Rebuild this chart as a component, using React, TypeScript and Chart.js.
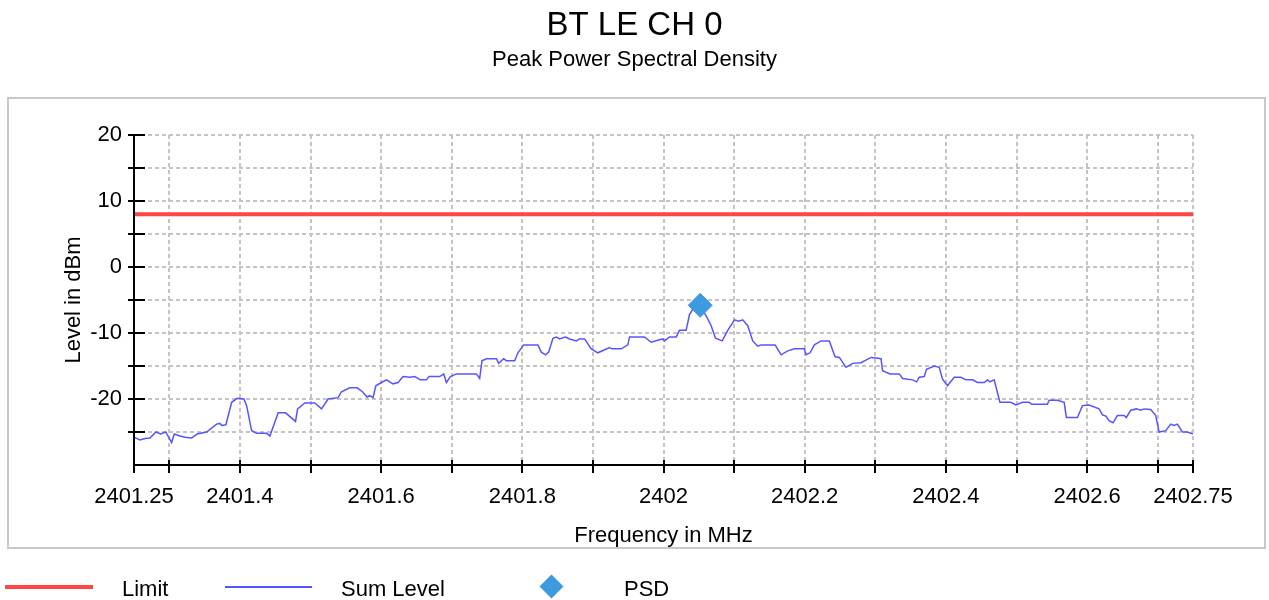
import React, { useEffect, useRef } from 'react';
import { Chart, registerables } from 'chart.js';

Chart.register(...registerables);

const chartTitle = 'BT LE CH 0';
const chartSubtitle = 'Peak Power Spectral Density';
const xAxisTitle = 'Frequency in MHz';
const yAxisTitle = 'Level in dBm';

const seriesNames = ['Limit', 'Sum Level', 'PSD'];
const seriesColors = ['#ff4646', '#5555ff', '#3d9ade'];

const xTickValues = [2401.25, 2401.3, 2401.4, 2401.5, 2401.6, 2401.7, 2401.8, 2401.9, 2402.0, 2402.1, 2402.2, 2402.3, 2402.4, 2402.5, 2402.6, 2402.7, 2402.75];
const xTickLabels = ['2401.25', '2401.4', '2401.6', '2401.8', '2402', '2402.2', '2402.4', '2402.6', '2402.75'];
const yTickValues = [-30, -25, -20, -15, -10, -5, 0, 5, 10, 15, 20];
const yTickLabels = ['-20', '-10', '0', '10', '20'];

const limitFreqMHz = [2401.25, 2402.75];
const limitLevel = [8, 8];

const psdFreqMHz = [2402.052];
const psdLevel = [-5.8];

const sumFreqMHz = [
  2401.2500, 2401.2585, 2401.2656, 2401.2726, 2401.2811, 2401.2878, 2401.2949, 2401.3033, 2401.3070, 2401.3151,
  2401.3222, 2401.3317, 2401.3396, 2401.3529, 2401.3670, 2401.3717, 2401.3741, 2401.3802, 2401.3883, 2401.3962,
  2401.4057, 2401.4095, 2401.4166, 2401.4236, 2401.4378, 2401.4425, 2401.4542, 2401.4647, 2401.4788, 2401.4817,
  2401.4920, 2401.5061, 2401.5156, 2401.5250, 2401.5391, 2401.5439, 2401.5557, 2401.5660, 2401.5736, 2401.5801,
  2401.5840, 2401.5886, 2401.5925, 2401.6005, 2401.6076, 2401.6169, 2401.6240, 2401.6311, 2401.6406, 2401.6476,
  2401.6557, 2401.6642, 2401.6679, 2401.6830, 2401.6887, 2401.6925, 2401.6982, 2401.7067, 2401.7350, 2401.7396,
  2401.7429, 2401.7491, 2401.7633, 2401.7665, 2401.7736, 2401.7774, 2401.7892, 2401.7938, 2401.8019, 2401.8221,
  2401.8269, 2401.8330, 2401.8373, 2401.8434, 2401.8482, 2401.8528, 2401.8609, 2401.8670, 2401.8765, 2401.8811,
  2401.8882, 2401.8977, 2401.9070, 2401.9236, 2401.9269, 2401.9401, 2401.9495, 2401.9519, 2401.9731, 2401.9826,
  2401.9919, 2401.9990, 2402.0014, 2402.0085, 2402.0180, 2402.0226, 2402.0321, 2402.0368, 2402.0415, 2402.0485,
  2402.0520, 2402.0556, 2402.0604, 2402.0675, 2402.0736, 2402.0831, 2402.0910, 2402.1005, 2402.1066, 2402.1122,
  2402.1193, 2402.1264, 2402.1335, 2402.1383, 2402.1581, 2402.1666, 2402.1759, 2402.1854, 2402.1995, 2402.2019,
  2402.2076, 2402.2137, 2402.2232, 2402.2349, 2402.2430, 2402.2491, 2402.2585, 2402.2679, 2402.2798, 2402.2939,
  2402.3010, 2402.3081, 2402.3103, 2402.3208, 2402.3340, 2402.3387, 2402.3528, 2402.3585, 2402.3623, 2402.3693,
  2402.3726, 2402.3835, 2402.3906, 2402.3952, 2402.4023, 2402.4118, 2402.4213, 2402.4284, 2402.4377, 2402.4448,
  2402.4543, 2402.4589, 2402.4623, 2402.4684, 2402.4765, 2402.4920, 2402.4991, 2402.5085, 2402.5179, 2402.5217,
  2402.5438, 2402.5462, 2402.5580, 2402.5675, 2402.5707, 2402.5863, 2402.5934, 2402.6028, 2402.6170, 2402.6217,
  2402.6265, 2402.6311, 2402.6368, 2402.6429, 2402.6524, 2402.6556, 2402.6618, 2402.6698, 2402.6760, 2402.6807,
  2402.6901, 2402.6972, 2402.7019, 2402.7114, 2402.7185, 2402.7231, 2402.7278, 2402.7349, 2402.7420, 2402.7500,
];

const sumLevelDbm = [
  -25.8, -26.2, -26.0, -25.9, -25.0, -25.3, -25.0, -26.6, -25.3, -25.6,
  -25.8, -25.9, -25.3, -25.0, -23.8, -23.7, -24.0, -23.9, -20.5, -19.9,
  -20.0, -21.0, -24.8, -25.2, -25.2, -25.6, -22.1, -22.1, -23.4, -21.5,
  -20.6, -20.6, -21.5, -20.0, -19.8, -18.9, -18.3, -18.3, -18.9, -19.7,
  -19.5, -19.8, -18.0, -17.5, -17.1, -17.7, -17.5, -16.6, -16.7, -16.6,
  -17.1, -17.1, -16.6, -16.6, -16.2, -17.5, -16.6, -16.2, -16.2, -16.9,
  -14.2, -13.9, -13.9, -14.6, -13.9, -14.2, -14.2, -13.0, -11.8, -11.8,
  -12.9, -13.3, -12.9, -10.8, -10.6, -10.9, -10.6, -10.9, -11.2, -10.9,
  -10.9, -12.4, -13.0, -12.2, -12.4, -12.4, -11.8, -10.6, -10.6, -11.4,
  -11.1, -10.9, -11.2, -10.6, -10.6, -9.6, -9.6, -7.2, -6.4, -5.9,
  -5.8, -6.6, -7.4, -8.9, -10.8, -11.2, -9.6, -8.0, -8.2, -8.0,
  -8.9, -11.2, -12.0, -11.8, -11.8, -13.3, -12.7, -12.4, -12.4, -13.3,
  -13.0, -11.8, -11.2, -11.2, -13.6, -13.7, -15.2, -14.6, -14.5, -13.7,
  -13.8, -13.9, -15.7, -16.2, -16.2, -16.9, -17.1, -17.4, -16.7, -16.6,
  -15.5, -15.0, -15.2, -17.0, -18.0, -16.7, -16.7, -17.1, -17.1, -17.5,
  -17.5, -17.1, -17.4, -17.1, -20.5, -20.5, -20.9, -20.5, -20.5, -20.8,
  -20.8, -20.2, -20.2, -20.5, -22.8, -22.8, -21.0, -20.9, -21.5, -22.4,
  -22.6, -23.3, -23.6, -22.5, -22.5, -22.8, -21.7, -21.5, -21.7, -21.5,
  -21.6, -22.5, -25.0, -24.8, -23.8, -24.0, -23.8, -25.0, -25.0, -25.3,
];

const FONT = '"Liberation Sans", Arial, Helvetica, sans-serif';

const fmt = (v: number) => String(Number(Number(v).toFixed(2)));

const frameAxesPlugin = {
  id: 'frameAxes',
  beforeDraw(chart: any) {
    const ctx = chart.ctx;
    ctx.save();
    ctx.strokeStyle = '#c8c8c8';
    ctx.lineWidth = 2;
    ctx.strokeRect(8, 98, 1257, 450);
    ctx.restore();
  },
  afterDraw(chart: any) {
    const { ctx, chartArea } = chart;
    const { left, right, top, bottom } = chartArea;
    const xs = chart.scales.x;
    const ys = chart.scales.y;
    ctx.save();
    ctx.strokeStyle = '#000';
    ctx.lineWidth = 2;
    ctx.setLineDash([]);
    ctx.beginPath();
    ctx.moveTo(left, top - 1);
    ctx.lineTo(left, bottom);
    ctx.lineTo(right, bottom);
    for (const t of ys.ticks) {
      if (t.value === ys.min) continue;
      const py = Math.round(ys.getPixelForValue(t.value));
      ctx.moveTo(left - 6, py);
      ctx.lineTo(left + 11, py);
    }
    for (const t of xs.ticks) {
      const px = Math.round(xs.getPixelForValue(t.value));
      ctx.moveTo(px, bottom - 5);
      ctx.lineTo(px, bottom + 8);
    }
    ctx.stroke();
    ctx.restore();
  },
};

export default function App() {
  const canvasRef = useRef<HTMLCanvasElement | null>(null);

  useEffect(() => {
    const canvas = canvasRef.current;
    if (!canvas) return;
    const gridColor = '#c4c4c4';
    const chart = new Chart(canvas, {
      type: 'line',
      data: {
        datasets: [
          {
            label: seriesNames[0],
            data: limitFreqMHz.map((f, i) => ({ x: f, y: limitLevel[i] })),
            borderColor: seriesColors[0],
            backgroundColor: seriesColors[0],
            borderWidth: 4,
            pointRadius: 0,
            fill: false,
            order: 1,
          },
          {
            label: seriesNames[1],
            data: sumFreqMHz.map((f, i) => ({ x: f, y: sumLevelDbm[i] })),
            borderColor: seriesColors[1],
            backgroundColor: seriesColors[1],
            borderWidth: 1.5,
            pointRadius: 0,
            tension: 0,
            fill: false,
            order: 2,
          },
          {
            label: seriesNames[2],
            data: psdFreqMHz.map((f, i) => ({ x: f, y: psdLevel[i] })),
            showLine: false,
            pointStyle: 'rectRot',
            pointRadius: 12,
            pointBackgroundColor: seriesColors[2],
            pointBorderColor: seriesColors[2],
            pointBorderWidth: 1,
            borderColor: seriesColors[2],
            backgroundColor: seriesColors[2],
            order: 0,
          },
        ],
      } as any,
      options: {
        animation: false,
        responsive: false,
        devicePixelRatio: 1,
        events: [],
        layout: { padding: { left: 0, right: 0, top: 0, bottom: 0 } },
        plugins: {
          legend: { display: false },
          tooltip: { enabled: false },
          title: {
            display: true,
            text: chartTitle,
            color: '#000',
            font: { family: FONT, size: 33, weight: 'normal', lineHeight: 1.2 },
            padding: { top: 6, bottom: 0 },
          },
          subtitle: {
            display: true,
            text: chartSubtitle,
            color: '#000',
            font: { family: FONT, size: 22, weight: 'normal', lineHeight: 1.2 },
            padding: { top: 1, bottom: 62 },
          },
        },
        scales: {
          x: {
            type: 'linear',
            position: 'bottom',
            min: xTickValues[0],
            max: xTickValues[xTickValues.length - 1],
            afterBuildTicks: (s: any) => {
              s.ticks = xTickValues.map((v) => ({ value: v }));
            },
            afterFit: (s: any) => {
              s.height = 135;
            },
            ticks: {
              autoSkip: false,
              maxRotation: 0,
              minRotation: 0,
              padding: 19,
              color: '#000',
              font: { family: FONT, size: 22 },
              callback: (v: any) => (xTickLabels.includes(fmt(v)) ? fmt(v) : ''),
            },
            grid: { color: gridColor, lineWidth: 2, drawTicks: false },
            border: { display: false, dash: [4, 3] },
            title: {
              display: true,
              text: xAxisTitle,
              color: '#000',
              font: { family: FONT, size: 22 },
              padding: { top: 0, bottom: 51 },
            },
          },
          y: {
            type: 'linear',
            position: 'left',
            min: yTickValues[0],
            max: yTickValues[yTickValues.length - 1],
            afterBuildTicks: (s: any) => {
              s.ticks = yTickValues.map((v) => ({ value: v }));
            },
            afterFit: (s: any) => {
              s.width = 134;
            },
            ticks: {
              autoSkip: false,
              padding: 12,
              color: '#000',
              font: { family: FONT, size: 22 },
              callback: (v: any) => (yTickLabels.includes(fmt(v)) ? fmt(v) : ''),
            },
            grid: { color: gridColor, lineWidth: 2, drawTicks: false },
            border: { display: false, dash: [4, 3] },
            title: {
              display: true,
              text: yAxisTitle,
              color: '#000',
              font: { family: FONT, size: 22 },
              padding: { top: 61, bottom: 0 },
            },
          },
          yRightSpace: {
            type: 'linear',
            position: 'right',
            display: true,
            afterFit: (s: any) => {
              s.width = 76;
            },
            ticks: { display: false },
            grid: { display: false, drawOnChartArea: false, drawTicks: false },
            border: { display: false },
          },
        },
      } as any,
      plugins: [frameAxesPlugin],
    });
    return () => chart.destroy();
  }, []);

  const legendLayout = [
    { markLeft: 5, markWidth: 88, textLeft: 122 },
    { markLeft: 225, markWidth: 87, textLeft: 341 },
    { markLeft: 551, markWidth: 0, textLeft: 624 },
  ];

  return (
    <div style={{ position: 'absolute', left: 0, top: 0, width: 1269, height: 600, background: '#fff' }}>
      <canvas ref={canvasRef} width={1269} height={600} style={{ display: 'block', width: 1269, height: 600 }} />
      {seriesNames.map((name, i) => {
        const L = legendLayout[i];
        let mark;
        if (i === 0) {
          mark = <div style={{ position: 'absolute', left: L.markLeft, top: 585, width: L.markWidth, height: 4, background: seriesColors[i] }} />;
        } else if (i === 1) {
          mark = <div style={{ position: 'absolute', left: L.markLeft, top: 586, width: L.markWidth, height: 2, background: seriesColors[i] }} />;
        } else {
          mark = (
            <div
              style={{
                position: 'absolute',
                left: L.markLeft - 8.5,
                top: 586 - 8.5,
                width: 17,
                height: 17,
                background: seriesColors[i],
                transform: 'rotate(45deg)',
              }}
            />
          );
        }
        return (
          <React.Fragment key={name}>
            {mark}
            <span
              style={{
                position: 'absolute',
                left: L.textLeft,
                top: 576,
                fontFamily: FONT,
                fontSize: 22,
                lineHeight: '26px',
                color: '#000',
                whiteSpace: 'nowrap',
              }}
            >
              {name}
            </span>
          </React.Fragment>
        );
      })}
    </div>
  );
}
